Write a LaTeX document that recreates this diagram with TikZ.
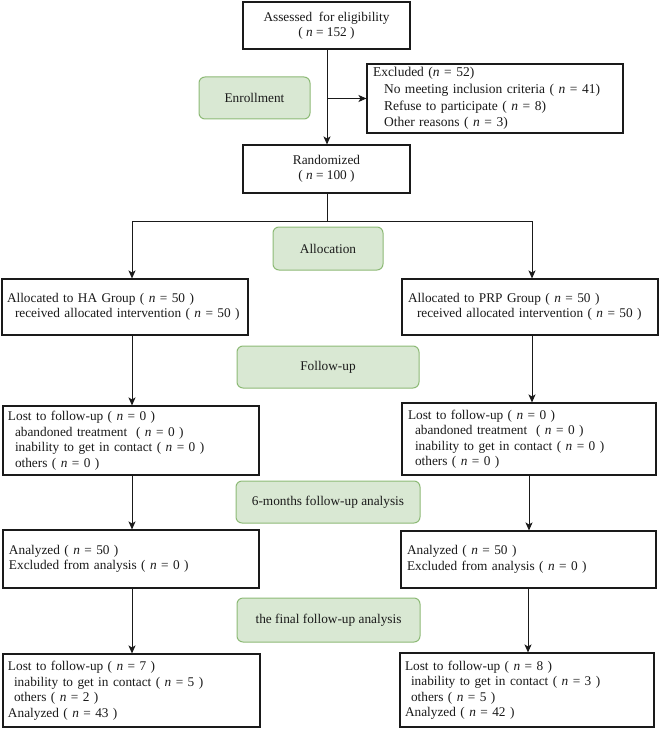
\documentclass[tikz,border=0pt]{standalone}
\usepackage{fontspec}
\setmainfont{Liberation Serif}
\usetikzlibrary{arrows.meta}
\definecolor{gfill}{HTML}{D9E8D3}
\definecolor{gstroke}{HTML}{8DBA76}
\definecolor{ink}{HTML}{1A1A1A}
\newcommand{\txs}{\fontsize{13.3}{15.5}\selectfont}
\newcommand{\ind}[1]{\hspace*{#1pt}}
\newcommand{\nn}{\textit{n}}
\begin{document}
\begin{tikzpicture}[x=1pt,y=-1pt,
  wbox/.style={draw=ink, line width=1.1pt, fill=white, inner xsep=6pt, inner ysep=0pt, align=left, font=\txs, text=ink},
  cbox/.style={draw=ink, line width=1.1pt, fill=white, inner xsep=4pt, inner ysep=0pt, align=center, font=\txs, text=ink},
  gbox/.style={draw=gstroke, fill=gfill, line width=1pt, rounded corners=6pt, align=center, font=\txs, text=ink, inner sep=0pt},
  arr/.style={draw=ink, line width=1pt, -{Stealth[length=8pt,width=7pt,inset=2pt]}},
  ln/.style={draw=ink, line width=1pt}]
\useasboundingbox (0,0) rectangle (661,735);

% top
\node[cbox, minimum width=167pt, minimum height=47pt] (assess) at (326.5,25.5)
  {Assessed\ \ for eligibility\\( \nn{} = 152 )};
\node[wbox, text width=244pt, minimum height=69pt, font=\fontsize{13.5}{16.8}\selectfont] (excl) at (495,98.5)
  {Excluded (\nn{} = 52)\\\ind{11}No meeting inclusion criteria ( \nn{} = 41)\\\ind{11}Refuse to participate ( \nn{} = 8)\\\ind{11}Other reasons ( \nn{} = 3)};
\node[gbox, minimum width=111pt, minimum height=42pt] (enroll) at (254.5,98) {Enrollment};
\node[cbox, minimum width=167pt, minimum height=48pt] (rand) at (326.5,169)
  {Randomized\\( \nn{} = 100 )};
\node[gbox, minimum width=110pt, minimum height=43pt] (alloc) at (328,248.5) {Allocation};

% allocation
\node[wbox, inner xsep=5pt, text width=236pt, minimum height=56pt] (ha) at (125,307)
  {Allocated to HA Group ( \nn{} = 50 )\\\ind{8}received allocated intervention ( \nn{} = 50 )};
\node[wbox, text width=244pt, minimum height=56pt] (prp) at (530,307)
  {Allocated to PRP Group ( \nn{} = 50 )\\\ind{9}received allocated intervention ( \nn{} = 50 )};
\node[gbox, minimum width=182pt, minimum height=42pt] (fu) at (328,367) {Follow-up};

% follow-up
\node[wbox, inner xsep=5pt, text width=246pt, minimum height=69pt] (lostL) at (131,440.5)
  {Lost to follow-up ( \nn{} = 0 )\\\ind{7}abandoned treatment\ \ ( \nn{} = 0 )\\\ind{7}inability to get in contact ( \nn{} = 0 )\\\ind{7}others ( \nn{} = 0 )};
\node[wbox, text width=242pt, minimum height=72pt] (lostR) at (529,439)
  {Lost to follow-up ( \nn{} = 0 )\\\ind{7}abandoned treatment\ \ ( \nn{} = 0 )\\\ind{7}inability to get in contact ( \nn{} = 0 )\\\ind{7}others ( \nn{} = 0 )};
\node[gbox, minimum width=184pt, minimum height=42pt] (six) at (328,502) {6-months follow-up analysis};

% analyzed
\node[wbox, text width=244pt, minimum height=58pt] (anaL) at (131,559)
  {Analyzed ( \nn{} = 50 )\\Excluded from analysis ( \nn{} = 0 )};
\node[wbox, text width=243pt, minimum height=57pt] (anaR) at (528.5,559.5)
  {Analyzed ( \nn{} = 50 )\\Excluded from analysis ( \nn{} = 0 )};
\node[gbox, minimum width=183pt, minimum height=44pt] (final) at (328.5,620) {the final follow-up analysis};

% bottom
\node[wbox, text width=247pt, inner xsep=5pt, minimum height=73pt] (botL) at (131.5,690.5)
  {Lost to follow-up ( \nn{} = 7 )\\\ind{6}inability to get in contact ( \nn{} = 5 )\\\ind{6}others ( \nn{} = 2 )\\Analyzed ( \nn{} = 43 )};
\node[wbox, text width=244pt, inner xsep=5pt, minimum height=74pt] (botR) at (527,690)
  {Lost to follow-up ( \nn{} = 8 )\\\ind{6}inability to get in contact ( \nn{} = 3 )\\\ind{6}others ( \nn{} = 5 )\\Analyzed ( \nn{} = 42 )};

% helper x positions
\coordinate (xT) at (327,0);
\coordinate (xL) at (132,0);
\coordinate (xR) at (532,0);
\coordinate (xR2) at (529,0);
\coordinate (xR3) at (528,0);
\coordinate (jx) at (xT |- excl.west);
\coordinate (split) at (327,221);

% connectors
\draw[arr] (xT |- assess.south) -- (xT |- rand.north);
\draw[arr] (jx) -- (excl.west);
\draw[ln] (xT |- rand.south) -- (split);
\draw[arr] (split) -| (xL |- ha.north);
\draw[arr] (split) -| (xR |- prp.north);
\draw[arr] (xL |- ha.south) -- (xL |- lostL.north);
\draw[arr] (xR |- prp.south) -- (xR |- lostR.north);
\draw[arr] (xL |- lostL.south) -- (xL |- anaL.north);
\draw[arr] (xR2 |- lostR.south) -- (xR2 |- anaR.north);
\draw[arr] (xL |- anaL.south) -- (xL |- botL.north);
\draw[arr] (xR3 |- anaR.south) -- (xR3 |- botR.north);
\end{tikzpicture}
\end{document}
